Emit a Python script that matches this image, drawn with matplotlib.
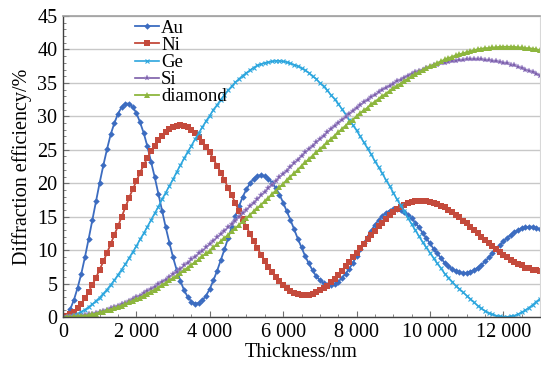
import numpy as np
import matplotlib
matplotlib.use("Agg")
import matplotlib.pyplot as plt
from matplotlib.ticker import MultipleLocator, FuncFormatter

plt.rcParams["font.family"] = ["Liberation Serif", "DejaVu Serif"]

# thickness grid (nm), one sample every 100 nm
thickness = np.arange(0, 13001, 100)

au = [0.0, 0.3, 1.2, 2.6, 4.4, 6.5, 9.0, 11.7, 14.5, 17.3,
      20.1, 22.7, 25.1, 27.3, 29.0, 30.4, 31.4, 31.9, 31.9, 31.4,
      30.5, 29.1, 27.5, 25.5, 23.2, 20.9, 18.4, 15.9, 13.4, 11.1,
      8.9, 7.0, 5.4, 4.0, 3.0, 2.3, 2.0, 2.1, 2.5, 3.2,
      4.2, 5.5, 6.9, 8.5, 10.1, 11.8, 13.5, 15.1, 16.6, 18.0,
      19.1, 20.0, 20.7, 21.1, 21.2, 21.1, 20.7, 20.1, 19.3, 18.3,
      17.1, 15.8, 14.5, 13.1, 11.7, 10.4, 9.1, 8.0, 7.0, 6.1,
      5.5, 5.1, 4.8, 4.8, 4.9, 5.3, 5.8, 6.5, 7.2, 8.1,
      9.1, 10.1, 11.0, 12.0, 12.9, 13.8, 14.5, 15.1, 15.6, 15.9,
      16.1, 16.1, 16.0, 15.7, 15.3, 14.8, 14.1, 13.4, 12.6, 11.8,
      11.0, 10.2, 9.5, 8.8, 8.1, 7.6, 7.2, 6.9, 6.7, 6.6,
      6.6, 6.8, 7.0, 7.4, 7.8, 8.3, 8.9, 9.5, 10.1, 10.7,
      11.3, 11.8, 12.3, 12.7, 13.0, 13.3, 13.4, 13.5, 13.5, 13.3,
      13.1]

ni = [0.0, 0.1, 0.4, 0.8, 1.4, 2.0, 2.8, 3.8, 4.8, 5.9,
      7.1, 8.3, 9.6, 10.9, 12.3, 13.6, 15.0, 16.4, 17.8, 19.1,
      20.3, 21.6, 22.7, 23.8, 24.8, 25.6, 26.4, 27.1, 27.6, 28.1,
      28.4, 28.6, 28.7, 28.6, 28.4, 28.0, 27.5, 26.9, 26.2, 25.4,
      24.6, 23.6, 22.6, 21.6, 20.5, 19.3, 18.2, 17.0, 15.8, 14.7,
      13.5, 12.4, 11.3, 10.3, 9.3, 8.4, 7.5, 6.7, 6.0, 5.4,
      4.8, 4.3, 3.9, 3.6, 3.4, 3.3, 3.3, 3.3, 3.5, 3.7,
      4.0, 4.3, 4.7, 5.2, 5.7, 6.3, 6.9, 7.6, 8.2, 8.9,
      9.6, 10.3, 10.9, 11.6, 12.3, 12.9, 13.6, 14.1, 14.7, 15.2,
      15.7, 16.1, 16.4, 16.7, 17.0, 17.2, 17.3, 17.3, 17.4, 17.3,
      17.2, 17.1, 16.9, 16.6, 16.4, 16.0, 15.7, 15.3, 14.9, 14.4,
      14.0, 13.5, 13.0, 12.5, 12.0, 11.5, 11.0, 10.6, 10.1, 9.7,
      9.3, 8.9, 8.5, 8.2, 7.9, 7.7, 7.4, 7.3, 7.1, 7.0,
      6.9]

ge = [0.0, 0.0, 0.1, 0.3, 0.5, 0.8, 1.1, 1.5, 1.9, 2.4,
      2.9, 3.5, 4.1, 4.8, 5.5, 6.3, 7.1, 7.9, 8.8, 9.7,
      10.6, 11.6, 12.5, 13.5, 14.5, 15.5, 16.5, 17.6, 18.6, 19.6,
      20.6, 21.7, 22.7, 23.7, 24.7, 25.6, 26.6, 27.5, 28.4, 29.3,
      30.1, 31.0, 31.7, 32.5, 33.2, 33.9, 34.5, 35.1, 35.6, 36.1,
      36.5, 36.9, 37.3, 37.6, 37.8, 38.0, 38.1, 38.2, 38.3, 38.3,
      38.2, 38.1, 37.9, 37.7, 37.5, 37.2, 36.9, 36.5, 36.0, 35.6,
      35.0, 34.5, 33.9, 33.2, 32.6, 31.9, 31.1, 30.3, 29.5, 28.7,
      27.9, 27.0, 26.1, 25.2, 24.3, 23.3, 22.4, 21.5, 20.5, 19.6,
      18.6, 17.6, 16.7, 15.8, 14.8, 13.9, 13.0, 12.1, 11.2, 10.4,
      9.6, 8.8, 8.0, 7.3, 6.5, 5.9, 5.3, 4.7, 4.2, 3.7,
      3.2, 2.7, 2.2, 1.7, 1.3, 0.9, 0.6, 0.4, 0.2, 0.1,
      0.0, 0.0, 0.1, 0.2, 0.4, 0.7, 1.0, 1.4, 1.8, 2.3,
      2.7]

si = [0.0, 0.0, 0.0, 0.1, 0.1, 0.2, 0.3, 0.4, 0.5, 0.6,
      0.8, 0.9, 1.1, 1.3, 1.5, 1.7, 1.9, 2.1, 2.4, 2.7,
      3.0, 3.2, 3.6, 3.9, 4.2, 4.5, 4.9, 5.3, 5.6, 6.0,
      6.4, 6.8, 7.2, 7.7, 8.1, 8.6, 9.0, 9.5, 9.9, 10.4,
      10.9, 11.4, 11.9, 12.4, 12.9, 13.4, 13.9, 14.4, 15.0, 15.5,
      16.0, 16.6, 17.1, 17.6, 18.2, 18.7, 19.3, 19.8, 20.3, 20.9,
      21.4, 21.9, 22.5, 23.0, 23.5, 24.1, 24.6, 25.1, 25.6, 26.1,
      26.6, 27.1, 27.6, 28.1, 28.6, 29.0, 29.5, 29.9, 30.4, 30.8,
      31.3, 31.7, 32.1, 32.5, 32.9, 33.2, 33.6, 34.0, 34.3, 34.6,
      34.9, 35.3, 35.5, 35.8, 36.1, 36.4, 36.6, 36.8, 37.0, 37.2,
      37.4, 37.6, 37.7, 37.9, 38.0, 38.1, 38.2, 38.3, 38.4, 38.4,
      38.5, 38.5, 38.5, 38.5, 38.5, 38.4, 38.4, 38.3, 38.2, 38.1,
      38.0, 37.9, 37.7, 37.6, 37.4, 37.2, 37.0, 36.8, 36.6, 36.4,
      36.1]

diamond = [0.0, 0.0, 0.0, 0.1, 0.1, 0.2, 0.2, 0.3, 0.4, 0.5,
           0.7, 0.8, 1.0, 1.1, 1.3, 1.5, 1.7, 1.9, 2.2, 2.4,
           2.7, 2.9, 3.2, 3.5, 3.8, 4.1, 4.4, 4.8, 5.1, 5.5,
           5.8, 6.2, 6.6, 7.0, 7.4, 7.8, 8.2, 8.6, 9.1, 9.5,
           9.9, 10.4, 10.9, 11.3, 11.8, 12.3, 12.8, 13.3, 13.8, 14.3,
           14.8, 15.3, 15.8, 16.3, 16.8, 17.3, 17.8, 18.4, 18.9, 19.4,
           19.9, 20.5, 21.0, 21.5, 22.0, 22.6, 23.1, 23.6, 24.1, 24.6,
           25.1, 25.6, 26.1, 26.6, 27.1, 27.6, 28.1, 28.6, 29.1, 29.5,
           30.0, 30.5, 30.9, 31.3, 31.8, 32.2, 32.6, 33.0, 33.4, 33.8,
           34.2, 34.6, 34.9, 35.3, 35.6, 36.0, 36.3, 36.6, 36.9, 37.2,
           37.5, 37.7, 38.0, 38.2, 38.5, 38.7, 38.9, 39.1, 39.3, 39.4,
           39.6, 39.7, 39.9, 40.0, 40.1, 40.2, 40.2, 40.3, 40.3, 40.4,
           40.4, 40.4, 40.4, 40.4, 40.3, 40.3, 40.2, 40.2, 40.1, 40.0,
           39.9]

fig = plt.figure(figsize=(5.41, 3.69), dpi=100)
ax = fig.add_axes([63 / 541, 52 / 369, 477 / 541, 301 / 369])

# horizontal grid
ax.set_axisbelow(True)
ax.yaxis.grid(True, color="#c8c8c8", linewidth=1.0)

ax.plot(thickness, au, color="#3c6cc0", lw=1.3, marker="D", ms=3.3,
        mew=0, label="Au")
ax.plot(thickness, ni, color="#c44a3c", lw=1.3, marker="s", ms=4.2,
        mew=0, label="Ni")
ax.plot(thickness, ge, color="#2ca6de", lw=1.2, marker="x", ms=3.0,
        mew=0.8, label="Ge")
ax.plot(thickness, si, color="#7b5ea8", lw=1.2, marker="*", ms=4.2,
        mew=0.3, mec="#a48fcf", label="Si")
ax.plot(thickness, diamond, color="#8db63e", lw=1.3, marker="^", ms=3.8,
        mew=0, label="diamond")

ax.set_xlim(0, 13000)
ax.set_ylim(0, 45)
ax.xaxis.set_major_locator(MultipleLocator(2000))
ax.xaxis.set_minor_locator(MultipleLocator(500))
ax.yaxis.set_major_locator(MultipleLocator(5))
ax.yaxis.set_minor_locator(MultipleLocator(1))
ax.xaxis.set_major_formatter(
    FuncFormatter(lambda v, p: f"{int(v):,}".replace(",", " ")))

ax.tick_params(which="both", direction="in", labelsize=14.5, color="#707070")
ax.tick_params(which="major", length=4, pad=4)
ax.tick_params(which="minor", length=2.5)

for side in ["left", "bottom"]:
    ax.spines[side].set_color("#404040")
    ax.spines[side].set_linewidth(1.0)
ax.spines["top"].set_color("#a0a0a0")
ax.spines["top"].set_linewidth(1.2)
ax.spines["right"].set_color("#d8d8d8")

ax.set_xlabel("Thickness/nm", fontsize=14.5, labelpad=1)
ax.set_ylabel("Diffraction efficiency/%", fontsize=14.5, labelpad=4)

ax.legend(loc="upper left", bbox_to_anchor=(0.143, 1.0), frameon=False,
          fontsize=13.5, handlelength=1.3, handletextpad=0.1,
          labelspacing=0.0, borderaxespad=0, borderpad=0.2)

fig.savefig("out.png", dpi=100)
